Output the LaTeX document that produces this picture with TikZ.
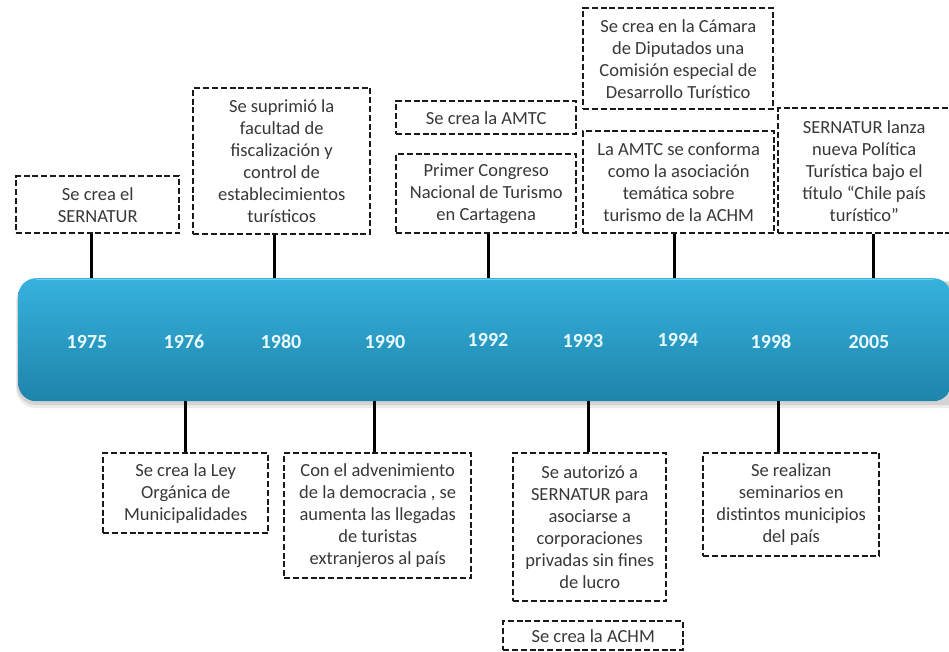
\documentclass[tikz,border=0pt]{standalone}
\usepackage{fontspec}
\setmainfont{Carlito}
\definecolor{boxc}{HTML}{1A1A1A}
\definecolor{txtc}{HTML}{383838}
\definecolor{bartop}{HTML}{36B2DE}
\definecolor{barmid}{HTML}{2EA0CA}
\definecolor{barbot}{HTML}{1E84AA}
\definecolor{yearc}{HTML}{E8FBFF}
\begin{document}
\begin{tikzpicture}[x=1pt,y=-1pt,
  evbox/.style={draw=boxc, line width=2.4pt, dash pattern=on 6pt off 2.8pt, fill=white,
    align=center, inner sep=0pt, text=txtc, anchor=north west,
    font=\fontsize{18.5}{22}\selectfont},
  sz/.style n args={2}{minimum width=#1, minimum height=#2},
  conn/.style={line width=3pt, black},
  year/.style={text=yearc, font=\fontsize{20}{24}\selectfont\bfseries},
  bar/.style={rounded corners=18pt, shade, top color=bartop, middle color=barmid,
    bottom color=barbot, draw=none, anchor=north west, inner sep=0pt}]
\useasboundingbox (0,0) rectangle (949,652);
\fill[white] (0,0) rectangle (949,652);
% shadow of the bar
\fill[black, opacity=0.08, rounded corners=20pt] (16,282) rectangle (970,408);
\fill[black, opacity=0.10, rounded corners=19pt] (17,281) rectangle (970,405);
% bar
\node[bar, minimum width=933, minimum height=123] (bar) at (18,278) {};
\draw[white, opacity=0.35, line width=1pt] ([xshift=18pt,yshift=-1pt]bar.north west) -- ([xshift=-18pt,yshift=-1pt]bar.north east);
% years
\node[year] (y1975) at (87,342) {1975};
\node[year] (y1976) at (184,342) {1976};
\node[year] (y1980) at (281,342) {1980};
\node[year] (y1990) at (385,342) {1990};
\node[year] (y1992) at (488,340) {1992};
\node[year] (y1993) at (583,341) {1993};
\node[year] (y1994) at (678,340) {1994};
\node[year] (y1998) at (771,342) {1998};
\node[year] (y2005) at (869,342) {2005};
% top boxes
\node[evbox, sz={163}{57}] (sern) at (15,175) {Se crea el\\SERNATUR};
\node[evbox, sz={177}{146}] (supr) at (192,87) {Se suprimió la\\facultad de\\fiscalización y\\control de\\establecimientos\\turísticos};
\node[evbox, sz={180}{33}] (amtc) at (395,100) {Se crea la AMTC};
\node[evbox, sz={180}{79}] (prim) at (395,153) {Primer Congreso\\Nacional de Turismo\\en Cartagena};
\node[evbox, sz={190}{101}] (cama) at (582,7) {Se crea en la Cámara\\de Diputados una\\Comisión especial de\\Desarrollo Turístico};
\node[evbox, sz={191}{102}] (conf) at (582,130) {La AMTC se conforma\\como la asociación\\temática sobre\\turismo de la ACHM};
\node[evbox, sz={172}{125}] (lanz) at (777,107) {SERNATUR lanza\\nueva Política\\Turística bajo el\\título “Chile país\\turístico”};
% bottom boxes
\node[evbox, sz={165}{80}] (ley) at (102,452) {Se crea la Ley\\Orgánica de\\Municipalidades};
\node[evbox, sz={187}{125}] (adv) at (283,452) {Con el advenimiento\\de la democracia , se\\aumenta las llegadas\\de turistas\\extranjeros al país};
\node[evbox, sz={153}{148}] (aut) at (512,452) {Se autorizó a\\SERNATUR para\\asociarse a\\corporaciones\\privadas sin fines\\de lucro};
\node[evbox, sz={180}{29}] (achm) at (502,620) {Se crea la ACHM};
\node[evbox, sz={176}{103}] (sem) at (702,452) {Se realizan\\seminarios en\\distintos municipios\\del país};
% connectors
\draw[conn] ([xshift=-6.5pt]sern.south) -- ([xshift=-6.5pt]sern.south |- bar.north);
\draw[conn] ([xshift=-7.5pt]supr.south) -- ([xshift=-7.5pt]supr.south |- bar.north);
\draw[conn] ([xshift=2pt]prim.south) -- ([xshift=2pt]prim.south |- bar.north);
\draw[conn] ([xshift=-4.5pt]conf.south) -- ([xshift=-4.5pt]conf.south |- bar.north);
\draw[conn] ([xshift=9pt]lanz.south) -- ([xshift=9pt]lanz.south |- bar.north);
\draw[conn] (ley.north) -- (ley.north |- bar.south);
\draw[conn] ([xshift=-3.5pt]adv.north) -- ([xshift=-3.5pt]adv.north |- bar.south);
\draw[conn] ([xshift=-1.5pt]aut.north) -- ([xshift=-1.5pt]aut.north |- bar.south);
\draw[conn] ([xshift=-13pt]sem.north) -- ([xshift=-13pt]sem.north |- bar.south);
\end{tikzpicture}
\end{document}
